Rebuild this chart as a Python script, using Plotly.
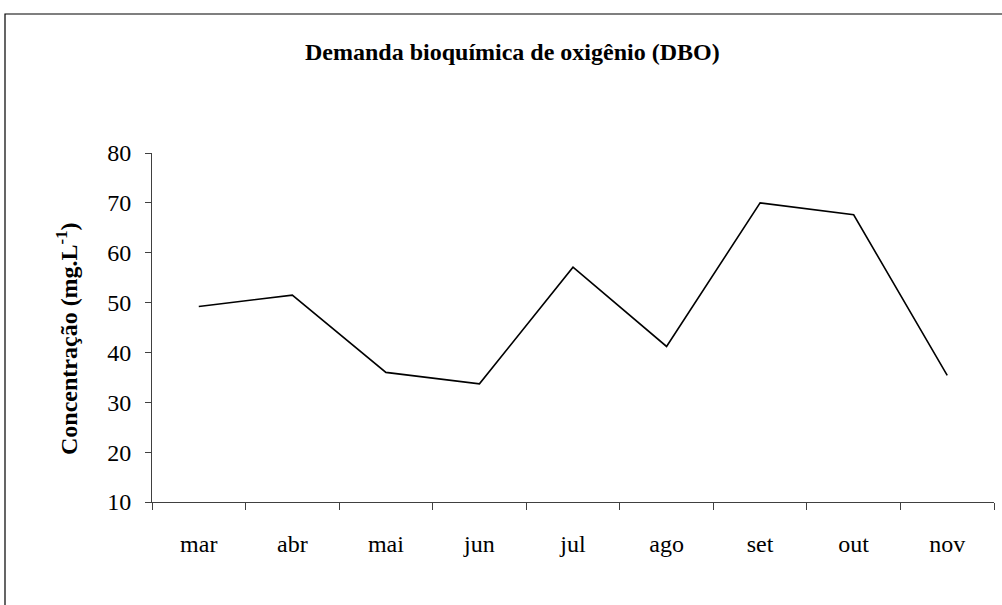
import plotly.graph_objects as go

months = ["mar", "abr", "mai", "jun", "jul", "ago", "set", "out", "nov"]
dbo = [49.2, 51.5, 36.0, 33.7, 57.1, 41.2, 70.0, 67.6, 35.4]
y_ticks = [10, 20, 30, 40, 50, 60, 70, 80]

FONT = "Liberation Serif, Times New Roman, serif"
AXC = "#404040"
FS = 24

# plot area in pixels: x 152..994, y 153..502
PW, PH = 842, 349

fig = go.Figure()
fig.add_trace(go.Scatter(x=months, y=dbo, mode="lines",
                         line=dict(color="black", width=1.6), showlegend=False,
                         hoverinfo="skip"))

fig.update_layout(
    width=1002, height=605,
    margin=dict(l=152, r=8, t=153, b=103),
    paper_bgcolor="white", plot_bgcolor="white",
    font=dict(family=FONT, size=FS, color="black"),
    xaxis=dict(type="category", range=[-0.5, 8.5], tickson="boundaries",
               ticks="outside", ticklen=7, tickcolor=AXC, tickwidth=1,
               showline=True, linecolor=AXC, linewidth=1, showgrid=False,
               zeroline=False, ticklabelstandoff=20,
               tickfont=dict(family=FONT, size=FS)),
    yaxis=dict(range=[10, 80], tickvals=y_ticks, ticks="outside", ticklen=6,
               tickcolor=AXC, tickwidth=1, showline=True, linecolor=AXC,
               linewidth=1, showgrid=False, zeroline=False,
               ticklabelstandoff=9, tickfont=dict(family=FONT, size=FS)),
    shapes=[dict(type="rect", xref="paper", yref="paper",
                 x0=(5 - 152) / PW, x1=(1010 - 152) / PW,
                 y0=(502 - 615) / PH, y1=1 + (153 - 14) / PH,
                 line=dict(color="black", width=1.2), fillcolor="rgba(0,0,0,0)",
                 layer="above")],
    annotations=[
        dict(text="<b>Demanda bioquímica de oxigênio (DBO)</b>", xref="paper",
             yref="paper", x=(512 - 152) / PW, y=1 + (153 - 52) / PH,
             xanchor="center", yanchor="middle", showarrow=False,
             font=dict(family=FONT, size=FS)),
        dict(text="<b>Concentração (mg.L<sup>-1</sup>)</b>", xref="paper",
             yref="paper", x=(67 - 152) / PW, y=(502 - 339) / PH,
             xanchor="center", yanchor="middle", textangle=-90,
             showarrow=False, font=dict(family=FONT, size=FS)),
    ],
)

fig.write_html("out.html", config={"displayModeBar": False},
               post_script="document.body.style.margin='0';")
